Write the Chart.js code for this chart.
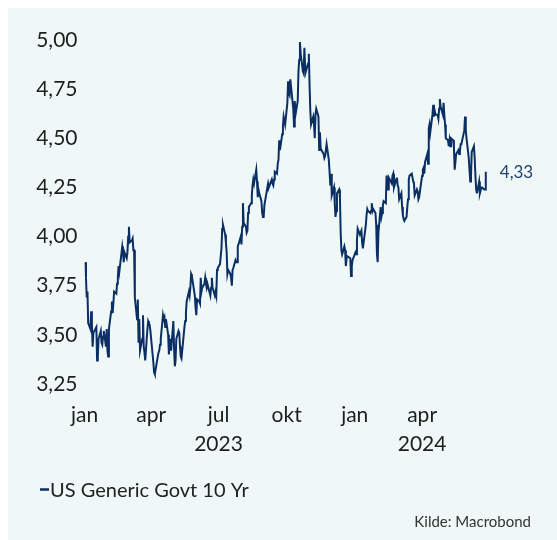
<!DOCTYPE html>
<html>
<head>
<meta charset="utf-8">
<script src="https://cdn.jsdelivr.net/npm/chart.js@4.4.1/dist/chart.umd.min.js"></script>
<style>
  html, body { margin: 0; padding: 0; background: #ffffff; }
  #panel { position: absolute; left: 8px; top: 8px; width: 549px; height: 532px; background: #eff8f7; }
  #wrap { position: absolute; left: 0; top: 0; width: 557px; height: 540px; }
</style>
</head>
<body>
<div id="panel"></div>
<div id="wrap"><canvas id="chart" width="557" height="540"></canvas></div>
<script>
// US Generic Govt 10 Yr, daily close (%)
const dates = [
  '2023-01-02','2023-01-03','2023-01-04','2023-01-05','2023-01-06','2023-01-09','2023-01-10','2023-01-11','2023-01-12','2023-01-13','2023-01-17','2023-01-18','2023-01-19','2023-01-20','2023-01-23','2023-01-24','2023-01-25','2023-01-26','2023-01-27','2023-01-30','2023-01-31',
  '2023-02-01','2023-02-02','2023-02-03','2023-02-06','2023-02-07','2023-02-08','2023-02-09','2023-02-10','2023-02-13','2023-02-14','2023-02-15','2023-02-16','2023-02-17','2023-02-21','2023-02-22','2023-02-23','2023-02-24','2023-02-27','2023-02-28',
  '2023-03-01','2023-03-02','2023-03-03','2023-03-06','2023-03-07','2023-03-08','2023-03-09','2023-03-10','2023-03-13','2023-03-14','2023-03-15','2023-03-16','2023-03-17','2023-03-20','2023-03-21','2023-03-22','2023-03-23','2023-03-24','2023-03-27','2023-03-28','2023-03-29','2023-03-30','2023-03-31',
  '2023-04-03','2023-04-04','2023-04-05','2023-04-06','2023-04-10','2023-04-11','2023-04-12','2023-04-13','2023-04-14','2023-04-17','2023-04-18','2023-04-19','2023-04-20','2023-04-21','2023-04-24','2023-04-25','2023-04-26','2023-04-27','2023-04-28',
  '2023-05-01','2023-05-02','2023-05-03','2023-05-04','2023-05-05','2023-05-08','2023-05-09','2023-05-10','2023-05-11','2023-05-12','2023-05-15','2023-05-16','2023-05-17','2023-05-18','2023-05-19','2023-05-22','2023-05-23','2023-05-24','2023-05-25','2023-05-26','2023-05-30','2023-05-31',
  '2023-06-01','2023-06-02','2023-06-05','2023-06-06','2023-06-07','2023-06-08','2023-06-09','2023-06-12','2023-06-13','2023-06-14','2023-06-15','2023-06-16','2023-06-20','2023-06-21','2023-06-22','2023-06-23','2023-06-26','2023-06-27','2023-06-28','2023-06-29','2023-06-30',
  '2023-07-03','2023-07-05','2023-07-06','2023-07-07','2023-07-10','2023-07-11','2023-07-12','2023-07-13','2023-07-14','2023-07-17','2023-07-18','2023-07-19','2023-07-20','2023-07-21','2023-07-24','2023-07-25','2023-07-26','2023-07-27','2023-07-28','2023-07-31',
  '2023-08-01','2023-08-02','2023-08-03','2023-08-04','2023-08-07','2023-08-08','2023-08-09','2023-08-10','2023-08-11','2023-08-14','2023-08-15','2023-08-16','2023-08-17','2023-08-18','2023-08-21','2023-08-22','2023-08-23','2023-08-24','2023-08-25','2023-08-28','2023-08-29','2023-08-30','2023-08-31',
  '2023-09-01','2023-09-05','2023-09-06','2023-09-07','2023-09-08','2023-09-11','2023-09-12','2023-09-13','2023-09-14','2023-09-15','2023-09-18','2023-09-19','2023-09-20','2023-09-21','2023-09-22','2023-09-25','2023-09-26','2023-09-27','2023-09-28','2023-09-29',
  '2023-10-02','2023-10-03','2023-10-04','2023-10-05','2023-10-06','2023-10-10','2023-10-11','2023-10-12','2023-10-13','2023-10-16','2023-10-17','2023-10-18','2023-10-19','2023-10-20','2023-10-23','2023-10-24','2023-10-25','2023-10-26','2023-10-27','2023-10-30','2023-10-31',
  '2023-11-01','2023-11-02','2023-11-03','2023-11-06','2023-11-07','2023-11-08','2023-11-09','2023-11-10','2023-11-13','2023-11-14','2023-11-15','2023-11-16','2023-11-17','2023-11-20','2023-11-21','2023-11-22','2023-11-24','2023-11-27','2023-11-28','2023-11-29','2023-11-30',
  '2023-12-01','2023-12-04','2023-12-05','2023-12-06','2023-12-07','2023-12-08','2023-12-11','2023-12-12','2023-12-13','2023-12-14','2023-12-15','2023-12-18','2023-12-19','2023-12-20','2023-12-21','2023-12-22','2023-12-26','2023-12-27','2023-12-28','2023-12-29',
  '2024-01-02','2024-01-03','2024-01-04','2024-01-05','2024-01-08','2024-01-09','2024-01-10','2024-01-11','2024-01-12','2024-01-16','2024-01-17','2024-01-18','2024-01-19','2024-01-22','2024-01-23','2024-01-24','2024-01-25','2024-01-26','2024-01-29','2024-01-30','2024-01-31',
  '2024-02-01','2024-02-02','2024-02-05','2024-02-06','2024-02-07','2024-02-08','2024-02-09','2024-02-12','2024-02-13','2024-02-14','2024-02-15','2024-02-16','2024-02-20','2024-02-21','2024-02-22','2024-02-23','2024-02-26','2024-02-27','2024-02-28','2024-02-29',
  '2024-03-01','2024-03-04','2024-03-05','2024-03-06','2024-03-07','2024-03-08','2024-03-11','2024-03-12','2024-03-13','2024-03-14','2024-03-15','2024-03-18','2024-03-19','2024-03-20','2024-03-21','2024-03-22','2024-03-25','2024-03-26','2024-03-27','2024-03-28',
  '2024-04-01','2024-04-02','2024-04-03','2024-04-04','2024-04-05','2024-04-08','2024-04-09','2024-04-10','2024-04-11','2024-04-12','2024-04-15','2024-04-16','2024-04-17','2024-04-18','2024-04-19','2024-04-22','2024-04-23','2024-04-24','2024-04-25','2024-04-26','2024-04-29','2024-04-30',
  '2024-05-01','2024-05-02','2024-05-03','2024-05-06','2024-05-07','2024-05-08','2024-05-09','2024-05-10','2024-05-13','2024-05-14','2024-05-15','2024-05-16','2024-05-17','2024-05-20','2024-05-21','2024-05-22','2024-05-23','2024-05-24','2024-05-28','2024-05-29','2024-05-30','2024-05-31',
  '2024-06-03','2024-06-04','2024-06-05','2024-06-06','2024-06-07','2024-06-10','2024-06-11','2024-06-12','2024-06-13','2024-06-14','2024-06-17','2024-06-18','2024-06-20','2024-06-21','2024-06-24','2024-06-25','2024-06-26'
];
const yields = [
  3.87,3.79,3.69,3.72,3.56,3.53,3.62,3.55,3.44,3.51,3.54,3.37,3.39,3.48,3.52,3.46,3.45,3.49,3.52,3.44,3.53,
  3.42,3.39,3.53,3.62,3.67,3.61,3.66,3.72,3.71,3.76,3.79,3.85,3.82,3.95,3.92,3.87,3.92,3.89,3.92,
  4.00,4.05,3.97,3.98,3.99,3.93,3.93,3.69,3.58,3.68,3.46,3.58,3.42,3.48,3.60,3.44,3.41,3.37,3.53,3.57,3.56,3.55,3.52,
  3.40,3.36,3.31,3.30,3.39,3.41,3.42,3.45,3.48,3.60,3.58,3.59,3.54,3.58,3.50,3.40,3.45,3.48,3.42,
  3.57,3.43,3.34,3.37,3.48,3.52,3.51,3.44,3.39,3.38,3.50,3.54,3.57,3.61,3.67,3.72,3.70,3.74,3.81,3.80,3.70,3.64,
  3.60,3.68,3.67,3.66,3.79,3.72,3.74,3.76,3.79,3.76,3.74,3.76,3.70,3.74,3.79,3.74,3.70,3.72,3.70,3.83,3.84,
  3.86,3.94,4.04,4.06,4.01,3.97,3.92,3.81,3.83,3.81,3.79,3.75,3.83,3.84,3.88,3.87,3.87,3.95,3.96,4.00,
  3.96,4.05,4.17,4.07,4.05,4.02,4.03,4.12,4.15,4.17,4.21,4.26,4.29,4.27,4.34,4.28,4.20,4.24,4.22,4.18,4.12,4.10,4.10,
  4.16,4.25,4.27,4.25,4.26,4.29,4.27,4.26,4.29,4.33,4.32,4.37,4.39,4.49,4.44,4.52,4.56,4.61,4.59,4.57,
  4.68,4.79,4.73,4.72,4.80,4.65,4.56,4.69,4.62,4.69,4.84,4.90,4.99,4.93,4.84,4.83,4.96,4.86,4.84,4.88,4.93,
  4.77,4.64,4.57,4.61,4.57,4.50,4.62,4.65,4.61,4.44,4.53,4.45,4.44,4.42,4.40,4.41,4.47,4.39,4.33,4.26,4.32,
  4.21,4.25,4.17,4.10,4.13,4.22,4.24,4.20,4.02,3.93,3.91,3.95,3.93,3.85,3.89,3.90,3.89,3.80,3.85,3.88,
  3.92,3.91,3.98,4.04,4.01,4.02,4.03,3.97,3.94,4.06,4.11,4.14,4.13,4.12,4.13,4.17,4.13,4.14,4.12,4.06,3.91,
  3.87,4.02,4.15,4.10,4.12,4.16,4.18,4.17,4.31,4.26,4.24,4.30,4.27,4.31,4.32,4.25,4.29,4.30,4.26,4.25,
  4.19,4.22,4.15,4.11,4.09,4.08,4.10,4.15,4.19,4.29,4.31,4.32,4.30,4.28,4.27,4.21,4.24,4.23,4.19,4.20,
  4.31,4.34,4.35,4.32,4.38,4.42,4.37,4.55,4.57,4.53,4.62,4.67,4.61,4.64,4.62,4.62,4.60,4.65,4.70,4.66,4.62,4.68,
  4.62,4.57,4.50,4.49,4.46,4.49,4.46,4.50,4.49,4.45,4.34,4.38,4.42,4.44,4.42,4.43,4.47,4.47,4.54,4.61,4.54,4.50,
  4.40,4.34,4.28,4.30,4.43,4.46,4.40,4.31,4.24,4.22,4.28,4.22,4.25,4.25,4.24,4.24,4.33
];
const seriesName = 'US Generic Govt 10 Yr';
const sourceText = 'Kilde: Macrobond';

// x-axis ticks (quarter starts) and their labels
const tickDates = ['2023-01-01','2023-04-01','2023-07-01','2023-10-01','2024-01-01','2024-04-01'];
const tickMonths = ['jan','apr','jul','okt','jan','apr'];
const tickYears = ['','','2023','','','2024'];

// y-axis ticks
const yTicks = [3.25, 3.50, 3.75, 4.00, 4.25, 4.50, 4.75, 5.00];

const origin = Date.parse('2023-01-01');
const dayOf = d => Math.round((Date.parse(d) - origin) / 86400000);
const tickDays = tickDates.map(dayOf);

const navy = '#0b2e63';
const font = 'Lato, "Open Sans", sans-serif';
const fmt = v => v.toFixed(2).replace('.', ',');

const extrasPlugin = {
  id: 'extras',
  afterDraw(chart) {
    const ctx = chart.ctx;
    const xs = chart.scales.x, ys = chart.scales.y;
    ctx.save();
    // end value label
    const last = yields.length - 1;
    const px = xs.getPixelForValue(dayOf(dates[last]));
    const py = ys.getPixelForValue(yields[last]);
    ctx.font = '17px ' + font;
    ctx.fillStyle = '#23416f';
    ctx.textBaseline = 'middle';
    ctx.textAlign = 'left';
    ctx.fillText(fmt(yields[last]), px + 14, py + 1);
    // legend
    ctx.strokeStyle = navy;
    ctx.lineWidth = 2.5;
    ctx.beginPath();
    ctx.moveTo(40, 489.5);
    ctx.lineTo(49, 489.5);
    ctx.stroke();
    ctx.font = '20px ' + font;
    ctx.fillStyle = '#222222';
    ctx.textBaseline = 'alphabetic';
    ctx.fillText(seriesName, 50, 497);
    // source
    ctx.font = '15px ' + font;
    ctx.fillStyle = '#333333';
    ctx.textAlign = 'right';
    ctx.fillText(sourceText, 531, 527);
    ctx.restore();
  }
};

new Chart(document.getElementById('chart'), {
  type: 'line',
  data: {
    datasets: [{
      label: seriesName,
      data: dates.map((d, i) => ({ x: dayOf(d), y: yields[i] })),
      borderColor: navy,
      borderWidth: 2,
      pointRadius: 0,
      tension: 0,
      fill: false
    }]
  },
  options: {
    responsive: false,
    animation: false,
    events: [],
    layout: { padding: { left: 0, top: 40, right: 69, bottom: 86 } },
    plugins: { legend: { display: false }, tooltip: { enabled: false } },
    scales: {
      x: {
        type: 'linear',
        min: 0,
        max: 545,
        grid: { display: false, drawTicks: false },
        border: { display: false },
        afterFit: s => { s.height = 70; },
        afterBuildTicks: s => { s.ticks = tickDays.map(v => ({ value: v })); },
        ticks: {
          autoSkip: false,
          maxRotation: 0,
          padding: 17,
          color: '#1e1e1e',
          font: { family: font, size: 21, lineHeight: 1.38 },
          callback: (v, i) => tickYears[i] ? [tickMonths[i], tickYears[i]] : tickMonths[i]
        }
      },
      y: {
        min: 3.25,
        max: 5.0,
        grid: { display: false, drawTicks: false },
        border: { display: false },
        afterFit: s => { s.width = 84.5; },
        afterBuildTicks: s => { s.ticks = yTicks.map(v => ({ value: v })); },
        ticks: {
          padding: 7,
          color: '#1e1e1e',
          font: { family: font, size: 21 },
          callback: v => fmt(v)
        }
      }
    }
  },
  plugins: [extrasPlugin]
});
</script>
</body>
</html>
